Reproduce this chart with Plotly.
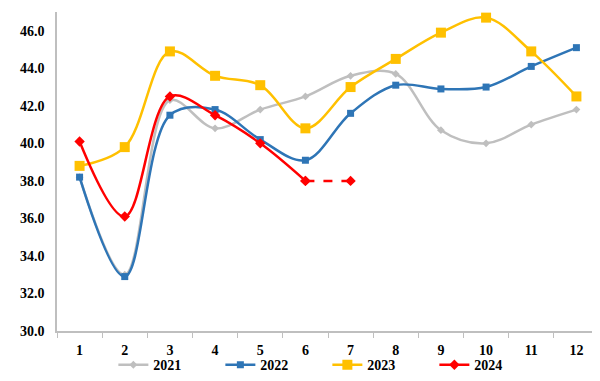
import plotly.graph_objects as go

months = ["1", "2", "3", "4", "5", "6", "7", "8", "9", "10", "11", "12"]
y2021 = [38.2, 33.0, 42.3, 40.8, 41.8, 42.5, 43.6, 43.7, 40.7, 40.0, 41.0, 41.8]
y2022 = [38.2, 32.9, 41.5, 41.8, 40.2, 39.1, 41.6, 43.1, 42.9, 43.0, 44.1, 45.1]
y2023 = [38.8, 39.8, 44.9, 43.6, 43.1, 40.8, 43.0, 44.5, 45.9, 46.7, 44.9, 42.5]
y2024 = [40.1, 36.1, 42.5, 41.5, 40.0, 38.0]
y2024_forecast_months = ["6", "7"]
y2024_forecast = [38.0, 38.0]
y_ticks = [30, 32, 34, 36, 38, 40, 42, 44, 46]

FAM = "Times New Roman, Liberation Serif, serif"
tfont = dict(family=FAM, size=14, color="#000000", weight="bold")

fig = go.Figure()
fig.add_trace(go.Scatter(x=months, y=y2021, name="2021", mode="lines+markers",
                         line=dict(color="#BFBFBF", width=2.5, shape="spline", smoothing=1),
                         marker=dict(symbol="diamond", size=6, color="#BFBFBF")))
fig.add_trace(go.Scatter(x=months, y=y2022, name="2022", mode="lines+markers",
                         line=dict(color="#2E75B6", width=2.5, shape="spline", smoothing=1),
                         marker=dict(symbol="square", size=7, color="#2E75B6")))
fig.add_trace(go.Scatter(x=months, y=y2023, name="2023", mode="lines+markers",
                         line=dict(color="#FFC000", width=2.5, shape="spline", smoothing=1),
                         marker=dict(symbol="square", size=10, color="#FFC000")))
fig.add_trace(go.Scatter(x=months[:len(y2024)], y=y2024, name="2024", mode="lines+markers",
                         line=dict(color="#FF0000", width=2.5, shape="spline", smoothing=1),
                         marker=dict(symbol="diamond", size=8, color="#FF0000")))
fig.add_trace(go.Scatter(x=y2024_forecast_months, y=y2024_forecast, name="2024 (dashed)",
                         mode="lines+markers", showlegend=False,
                         line=dict(color="#FF0000", width=2.5, dash="dash"),
                         marker=dict(symbol="diamond", size=8, color="#FF0000")))

fig.update_layout(
    width=592, height=373,
    margin=dict(l=49, r=1, t=4, b=50, autoexpand=False),
    paper_bgcolor="white", plot_bgcolor="white",
    font=dict(family=FAM, size=14, color="#000000"),
    showlegend=True,
    legend=dict(orientation="h", x=0.104, xanchor="left", y=-0.107, yanchor="middle",
                entrywidth=62, entrywidthmode="pixels", itemwidth=30,
                font=tfont, bgcolor="rgba(0,0,0,0)", traceorder="normal"),
)
fig.update_xaxes(type="category", categoryorder="array", categoryarray=months,
                 range=[-0.5, len(months) - 0.5], autorange=False,
                 showline=True, linecolor="#BFBFBF", linewidth=1.5,
                 ticks="outside", tickson="boundaries", ticklen=5, tickcolor="#BFBFBF",
                 showgrid=False, zeroline=False, ticklabelstandoff=5, automargin=False,
                 tickfont=tfont)
fig.update_yaxes(range=[30, 47], tickvals=y_ticks, ticktext=[f"{v:.1f}" for v in y_ticks],
                 showline=True, linecolor="#BFBFBF", linewidth=1.5, ticks="",
                 showgrid=False, zeroline=False, ticklabelstandoff=8, automargin=False,
                 tickfont=tfont)

fig.write_html("out.html")
